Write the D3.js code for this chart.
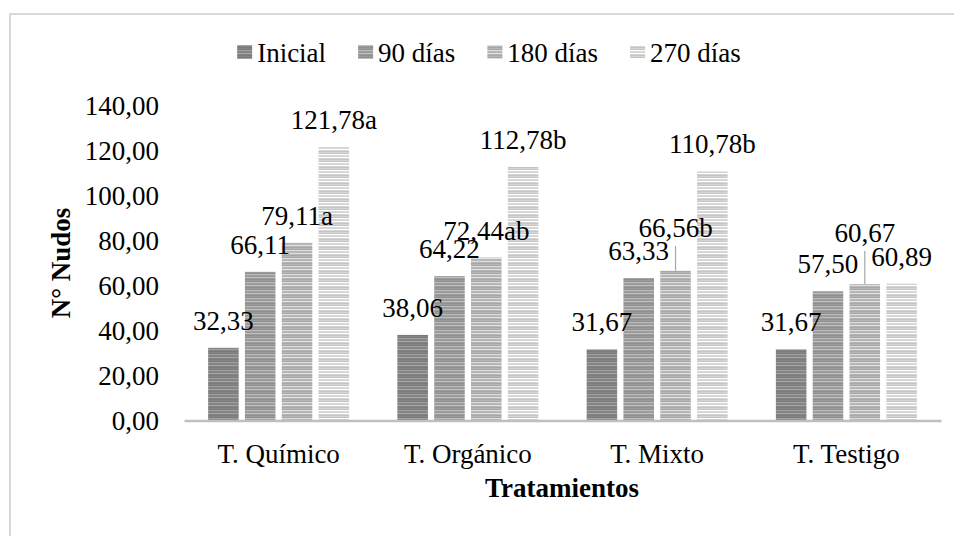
<!DOCTYPE html>
<html>
<head>
<meta charset="utf-8">
<script src="https://cdn.jsdelivr.net/npm/d3@7"></script>
<style>
  html, body { margin: 0; padding: 0; background: #fff; }
  svg { display: block; }
  text { font-family: "Liberation Serif", "Times New Roman", serif; fill: #000; }
</style>
</head>
<body>
<svg id="chart" width="954" height="536"></svg>
<script>
// Número de nudos por tratamiento y fecha de evaluación
const categories = ["T. Químico", "T. Orgánico", "T. Mixto", "T. Testigo"];
const seriesNames = ["Inicial", "90 días", "180 días", "270 días"];
const inicial  = [32.33, 38.06, 31.67, 31.67];
const dias90   = [66.11, 64.22, 63.33, 57.50];
const dias180  = [79.11, 72.44, 66.56, 60.67];
const dias270  = [121.78, 112.78, 110.78, 60.89];
// letras de significancia (Tukey) por serie
const letrasInicial = ["", "", "", ""];
const letras90      = ["", "", "", ""];
const letras180     = ["a", "ab", "b", ""];
const letras270     = ["a", "b", "b", ""];
const yTicks = [0, 20, 40, 60, 80, 100, 120, 140];

const seriesValues = [inicial, dias90, dias180, dias270];
const seriesLetters = [letrasInicial, letras90, letras180, letras270];

const svg = d3.select("#chart");
const FS = 27;

// marco del gráfico
svg.append("rect")
  .attr("x", 10).attr("y", 14).attr("width", 980).attr("height", 560)
  .attr("fill", "none").attr("stroke", "#d9d9d9").attr("stroke-width", 2);

// tramas de líneas horizontales para cada serie
const baseGrays = ["#858585", "#9c9c9c", "#b7b7b7", "#d6d6d6"];
const defs = svg.append("defs");
baseGrays.forEach((g, i) => {
  const c = d3.color(g);
  const light = c.brighter(0.55).formatHex();
  const dark = c.darker(0.25).formatHex();
  const p = defs.append("pattern")
    .attr("id", "trama" + i)
    .attr("patternUnits", "userSpaceOnUse")
    .attr("width", 6).attr("height", 8);
  const rows = [g, dark, light, g, g, light, g, dark];
  rows.forEach((col, r) => {
    p.append("rect").attr("x", 0).attr("y", r).attr("width", 6).attr("height", 1).attr("fill", col);
  });
});

const margin = { left: 184, right: 941, top: 105.7, bottom: 420.5 };

const x0 = d3.scaleBand()
  .domain(categories)
  .range([margin.left, margin.right])
  .padding(0);

const groupWidth = x0.bandwidth() * 0.745;
const x1 = d3.scaleBand()
  .domain(d3.range(seriesNames.length))
  .range([-groupWidth / 2, groupWidth / 2])
  .paddingInner(0.17)
  .paddingOuter(0);

const y = d3.scaleLinear().domain([0, 140]).range([margin.bottom, margin.top]);

const fmt = v => v.toFixed(2).replace(".", ",");

// eje Y: solo etiquetas
const yAxis = d3.axisLeft(y).tickValues(yTicks).tickFormat(fmt).tickSize(0).tickPadding(0);
const gy = svg.append("g").attr("transform", "translate(159,0)").call(yAxis);
gy.select(".domain").remove();
gy.selectAll("text")
  .style("font-family", "'Liberation Serif', 'Times New Roman', serif")
  .style("font-size", FS + "px")
  .attr("fill", "#000")
  .attr("dy", "0.34em");

// barras
const data = [];
categories.forEach((cat, ci) => {
  seriesValues.forEach((vals, si) => {
    data.push({ cat, ci, si, value: vals[ci], letter: seriesLetters[si][ci] });
  });
});

const bars = svg.append("g");
bars.selectAll("rect")
  .data(data)
  .join("rect")
  .attr("x", d => x0(d.cat) + x0.bandwidth() / 2 + x1(d.si))
  .attr("y", d => y(d.value))
  .attr("width", x1.bandwidth())
  .attr("height", d => y(0) - y(d.value))
  .attr("fill", d => `url(#trama${d.si})`);

// eje X
const xAxis = d3.axisBottom(x0).tickSize(0).tickPadding(0);
const gx = svg.append("g").attr("transform", `translate(0,${y(0)})`).call(xAxis);
gx.select(".domain").attr("stroke", "#bfbfbf").attr("stroke-width", 2.5);
gx.selectAll("text")
  .style("font-family", "'Liberation Serif', 'Times New Roman', serif")
  .style("font-size", FS + "px")
  .attr("fill", "#000")
  .attr("y", 42).attr("dy", 0);

// etiquetas de datos (algunas desplazadas con línea guía)
const moved = { "2-2": 34, "3-2": 42 };
const labels = svg.append("g");
data.forEach(d => {
  const cx = x0(d.cat) + x0.bandwidth() / 2 + x1(d.si) + x1.bandwidth() / 2;
  const top = y(d.value);
  const key = d.ci + "-" + d.si;
  const off = moved[key] !== undefined ? moved[key] : 18;
  labels.append("text")
    .attr("x", cx).attr("y", top - off)
    .attr("text-anchor", "middle")
    .style("font-size", FS + "px")
    .text(fmt(d.value) + d.letter);
  if (moved[key] !== undefined) {
    labels.append("line")
      .attr("x1", cx).attr("x2", cx)
      .attr("y1", top - off + 9).attr("y2", top)
      .attr("stroke", "#a6a6a6").attr("stroke-width", 1.2);
  }
});

// títulos de ejes
svg.append("text")
  .attr("transform", "translate(70,263) rotate(-90)")
  .attr("text-anchor", "middle")
  .style("font-size", FS + "px").style("font-weight", "bold")
  .text("N° Nudos");

svg.append("text")
  .attr("x", 562).attr("y", 497)
  .attr("text-anchor", "middle")
  .style("font-size", FS + "px").style("font-weight", "bold")
  .text("Tratamientos");

// leyenda
const legend = svg.append("g");
let lx = 0;
const items = [];
seriesNames.forEach((name, i) => {
  const g = legend.append("g");
  g.append("rect").attr("x", 0).attr("y", 45).attr("width", 15).attr("height", 14)
    .attr("fill", `url(#trama${i})`);
  const t = g.append("text").attr("x", 20).attr("y", 62)
    .style("font-size", FS + "px").text(name);
  const w = 20 + t.node().getComputedTextLength();
  items.push({ g, w });
});
const gap = 32;
const total = d3.sum(items, d => d.w) + gap * (items.length - 1);
lx = 489 - total / 2;
items.forEach(it => {
  it.g.attr("transform", `translate(${lx},0)`);
  lx += it.w + gap;
});
</script>
</body>
</html>
